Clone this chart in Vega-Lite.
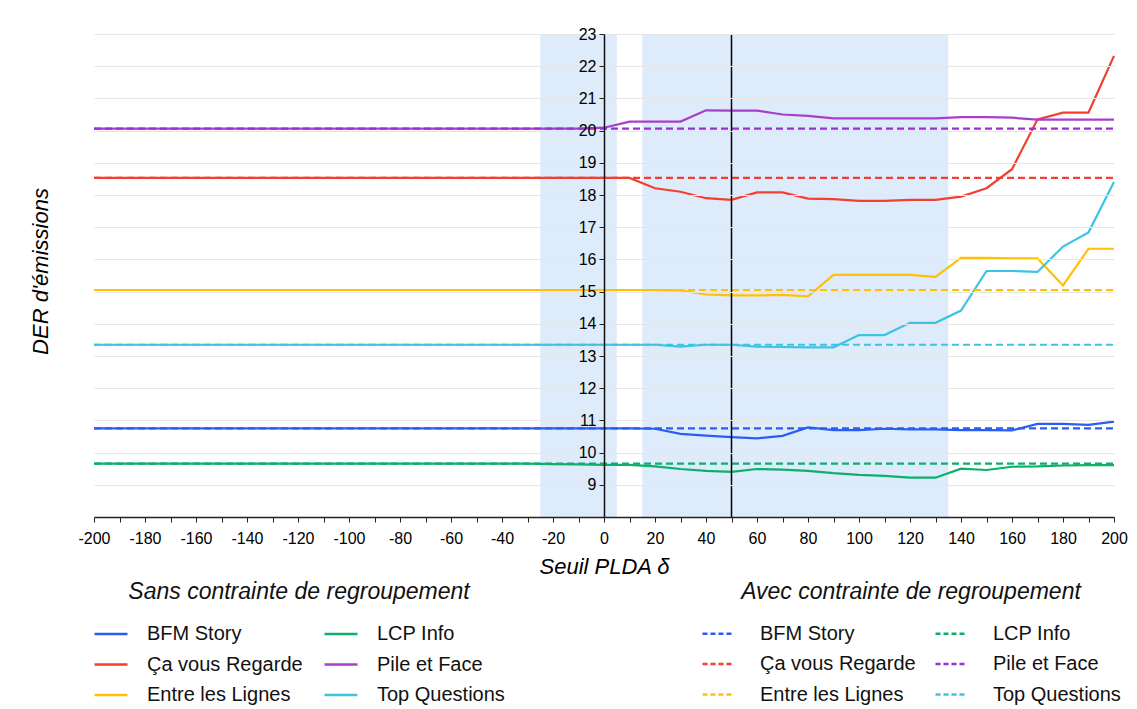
{
  "$schema": "https://vega.github.io/schema/vega-lite/v6.json",
  "width": 1020,
  "height": 483,
  "autosize": "none",
  "padding": {"left": 94, "top": 34, "right": 23, "bottom": 192},
  "background": "white",
  "config": {
    "font": "Liberation Sans",
    "view": {"stroke": null},
    "axis": {"labelColor": "black", "titleColor": "black", "labelFont": "Liberation Sans", "titleFont": "Liberation Sans"},
    "legend": {"labelFont": "Liberation Sans", "titleFont": "Liberation Sans"}
  },
  "datasets": {
    "shade": [
      {"delta": -25, "delta_end": 5},
      {"delta": 15, "delta_end": 135}
    ],
    "vline": [{"delta": 50}],
    "dashed": [
      {"series": "BFM Story", "delta": -200, "der": 10.75}, {"series": "BFM Story", "delta": 200, "der": 10.75},
      {"series": "LCP Info", "delta": -200, "der": 9.66}, {"series": "LCP Info", "delta": 200, "der": 9.66},
      {"series": "Ça vous Regarde", "delta": -200, "der": 18.53}, {"series": "Ça vous Regarde", "delta": 200, "der": 18.53},
      {"series": "Pile et Face", "delta": -200, "der": 20.06}, {"series": "Pile et Face", "delta": 200, "der": 20.06},
      {"series": "Entre les Lignes", "delta": -200, "der": 15.05}, {"series": "Entre les Lignes", "delta": 200, "der": 15.05},
      {"series": "Top Questions", "delta": -200, "der": 13.35}, {"series": "Top Questions", "delta": 200, "der": 13.35}
    ],
    "solid": [
      {"series": "BFM Story", "delta": -200, "der": 10.75},
      {"series": "BFM Story", "delta": -30, "der": 10.75},
      {"series": "BFM Story", "delta": -20, "der": 10.75},
      {"series": "BFM Story", "delta": -10, "der": 10.75},
      {"series": "BFM Story", "delta": 0, "der": 10.75},
      {"series": "BFM Story", "delta": 10, "der": 10.75},
      {"series": "BFM Story", "delta": 20, "der": 10.74},
      {"series": "BFM Story", "delta": 30, "der": 10.58},
      {"series": "BFM Story", "delta": 40, "der": 10.53},
      {"series": "BFM Story", "delta": 50, "der": 10.48},
      {"series": "BFM Story", "delta": 60, "der": 10.44},
      {"series": "BFM Story", "delta": 70, "der": 10.52},
      {"series": "BFM Story", "delta": 80, "der": 10.78},
      {"series": "BFM Story", "delta": 90, "der": 10.70},
      {"series": "BFM Story", "delta": 100, "der": 10.70},
      {"series": "BFM Story", "delta": 110, "der": 10.74},
      {"series": "BFM Story", "delta": 120, "der": 10.72},
      {"series": "BFM Story", "delta": 130, "der": 10.72},
      {"series": "BFM Story", "delta": 140, "der": 10.70},
      {"series": "BFM Story", "delta": 150, "der": 10.70},
      {"series": "BFM Story", "delta": 160, "der": 10.69},
      {"series": "BFM Story", "delta": 170, "der": 10.89},
      {"series": "BFM Story", "delta": 180, "der": 10.89},
      {"series": "BFM Story", "delta": 190, "der": 10.86},
      {"series": "BFM Story", "delta": 200, "der": 10.96},

      {"series": "Ça vous Regarde", "delta": -200, "der": 18.53},
      {"series": "Ça vous Regarde", "delta": -30, "der": 18.53},
      {"series": "Ça vous Regarde", "delta": -20, "der": 18.53},
      {"series": "Ça vous Regarde", "delta": -10, "der": 18.53},
      {"series": "Ça vous Regarde", "delta": 0, "der": 18.53},
      {"series": "Ça vous Regarde", "delta": 10, "der": 18.53},
      {"series": "Ça vous Regarde", "delta": 20, "der": 18.21},
      {"series": "Ça vous Regarde", "delta": 30, "der": 18.10},
      {"series": "Ça vous Regarde", "delta": 40, "der": 17.90},
      {"series": "Ça vous Regarde", "delta": 50, "der": 17.85},
      {"series": "Ça vous Regarde", "delta": 60, "der": 18.08},
      {"series": "Ça vous Regarde", "delta": 70, "der": 18.08},
      {"series": "Ça vous Regarde", "delta": 80, "der": 17.89},
      {"series": "Ça vous Regarde", "delta": 90, "der": 17.87},
      {"series": "Ça vous Regarde", "delta": 100, "der": 17.82},
      {"series": "Ça vous Regarde", "delta": 110, "der": 17.82},
      {"series": "Ça vous Regarde", "delta": 120, "der": 17.85},
      {"series": "Ça vous Regarde", "delta": 130, "der": 17.85},
      {"series": "Ça vous Regarde", "delta": 140, "der": 17.95},
      {"series": "Ça vous Regarde", "delta": 150, "der": 18.21},
      {"series": "Ça vous Regarde", "delta": 160, "der": 18.80},
      {"series": "Ça vous Regarde", "delta": 170, "der": 20.35},
      {"series": "Ça vous Regarde", "delta": 180, "der": 20.56},
      {"series": "Ça vous Regarde", "delta": 190, "der": 20.56},
      {"series": "Ça vous Regarde", "delta": 200, "der": 22.32},

      {"series": "Entre les Lignes", "delta": -200, "der": 15.05},
      {"series": "Entre les Lignes", "delta": -30, "der": 15.05},
      {"series": "Entre les Lignes", "delta": -20, "der": 15.05},
      {"series": "Entre les Lignes", "delta": -10, "der": 15.05},
      {"series": "Entre les Lignes", "delta": 0, "der": 15.05},
      {"series": "Entre les Lignes", "delta": 10, "der": 15.05},
      {"series": "Entre les Lignes", "delta": 20, "der": 15.05},
      {"series": "Entre les Lignes", "delta": 30, "der": 15.04},
      {"series": "Entre les Lignes", "delta": 40, "der": 14.91},
      {"series": "Entre les Lignes", "delta": 50, "der": 14.88},
      {"series": "Entre les Lignes", "delta": 60, "der": 14.88},
      {"series": "Entre les Lignes", "delta": 70, "der": 14.90},
      {"series": "Entre les Lignes", "delta": 80, "der": 14.85},
      {"series": "Entre les Lignes", "delta": 90, "der": 15.52},
      {"series": "Entre les Lignes", "delta": 100, "der": 15.52},
      {"series": "Entre les Lignes", "delta": 110, "der": 15.52},
      {"series": "Entre les Lignes", "delta": 120, "der": 15.52},
      {"series": "Entre les Lignes", "delta": 130, "der": 15.46},
      {"series": "Entre les Lignes", "delta": 140, "der": 16.05},
      {"series": "Entre les Lignes", "delta": 150, "der": 16.05},
      {"series": "Entre les Lignes", "delta": 160, "der": 16.03},
      {"series": "Entre les Lignes", "delta": 170, "der": 16.03},
      {"series": "Entre les Lignes", "delta": 180, "der": 15.19},
      {"series": "Entre les Lignes", "delta": 190, "der": 16.33},
      {"series": "Entre les Lignes", "delta": 200, "der": 16.33},

      {"series": "LCP Info", "delta": -200, "der": 9.66},
      {"series": "LCP Info", "delta": -30, "der": 9.66},
      {"series": "LCP Info", "delta": -20, "der": 9.645},
      {"series": "LCP Info", "delta": -10, "der": 9.635},
      {"series": "LCP Info", "delta": 0, "der": 9.62},
      {"series": "LCP Info", "delta": 10, "der": 9.62},
      {"series": "LCP Info", "delta": 20, "der": 9.57},
      {"series": "LCP Info", "delta": 30, "der": 9.49},
      {"series": "LCP Info", "delta": 40, "der": 9.43},
      {"series": "LCP Info", "delta": 50, "der": 9.40},
      {"series": "LCP Info", "delta": 60, "der": 9.49},
      {"series": "LCP Info", "delta": 70, "der": 9.47},
      {"series": "LCP Info", "delta": 80, "der": 9.43},
      {"series": "LCP Info", "delta": 90, "der": 9.36},
      {"series": "LCP Info", "delta": 100, "der": 9.31},
      {"series": "LCP Info", "delta": 110, "der": 9.28},
      {"series": "LCP Info", "delta": 120, "der": 9.22},
      {"series": "LCP Info", "delta": 130, "der": 9.22},
      {"series": "LCP Info", "delta": 140, "der": 9.50},
      {"series": "LCP Info", "delta": 150, "der": 9.46},
      {"series": "LCP Info", "delta": 160, "der": 9.56},
      {"series": "LCP Info", "delta": 170, "der": 9.57},
      {"series": "LCP Info", "delta": 180, "der": 9.60},
      {"series": "LCP Info", "delta": 190, "der": 9.61},
      {"series": "LCP Info", "delta": 200, "der": 9.61},

      {"series": "Pile et Face", "delta": -200, "der": 20.06},
      {"series": "Pile et Face", "delta": -30, "der": 20.06},
      {"series": "Pile et Face", "delta": -20, "der": 20.06},
      {"series": "Pile et Face", "delta": -10, "der": 20.06},
      {"series": "Pile et Face", "delta": 0, "der": 20.09},
      {"series": "Pile et Face", "delta": 10, "der": 20.28},
      {"series": "Pile et Face", "delta": 20, "der": 20.28},
      {"series": "Pile et Face", "delta": 30, "der": 20.28},
      {"series": "Pile et Face", "delta": 40, "der": 20.63},
      {"series": "Pile et Face", "delta": 50, "der": 20.62},
      {"series": "Pile et Face", "delta": 60, "der": 20.62},
      {"series": "Pile et Face", "delta": 70, "der": 20.50},
      {"series": "Pile et Face", "delta": 80, "der": 20.46},
      {"series": "Pile et Face", "delta": 90, "der": 20.38},
      {"series": "Pile et Face", "delta": 100, "der": 20.38},
      {"series": "Pile et Face", "delta": 110, "der": 20.38},
      {"series": "Pile et Face", "delta": 120, "der": 20.38},
      {"series": "Pile et Face", "delta": 130, "der": 20.38},
      {"series": "Pile et Face", "delta": 140, "der": 20.42},
      {"series": "Pile et Face", "delta": 150, "der": 20.42},
      {"series": "Pile et Face", "delta": 160, "der": 20.40},
      {"series": "Pile et Face", "delta": 170, "der": 20.34},
      {"series": "Pile et Face", "delta": 180, "der": 20.34},
      {"series": "Pile et Face", "delta": 190, "der": 20.34},
      {"series": "Pile et Face", "delta": 200, "der": 20.34},

      {"series": "Top Questions", "delta": -200, "der": 13.35},
      {"series": "Top Questions", "delta": -30, "der": 13.35},
      {"series": "Top Questions", "delta": -20, "der": 13.35},
      {"series": "Top Questions", "delta": -10, "der": 13.35},
      {"series": "Top Questions", "delta": 0, "der": 13.35},
      {"series": "Top Questions", "delta": 10, "der": 13.35},
      {"series": "Top Questions", "delta": 20, "der": 13.35},
      {"series": "Top Questions", "delta": 30, "der": 13.29},
      {"series": "Top Questions", "delta": 40, "der": 13.35},
      {"series": "Top Questions", "delta": 50, "der": 13.35},
      {"series": "Top Questions", "delta": 60, "der": 13.29},
      {"series": "Top Questions", "delta": 70, "der": 13.28},
      {"series": "Top Questions", "delta": 80, "der": 13.27},
      {"series": "Top Questions", "delta": 90, "der": 13.27},
      {"series": "Top Questions", "delta": 100, "der": 13.65},
      {"series": "Top Questions", "delta": 110, "der": 13.65},
      {"series": "Top Questions", "delta": 120, "der": 14.03},
      {"series": "Top Questions", "delta": 130, "der": 14.03},
      {"series": "Top Questions", "delta": 140, "der": 14.41},
      {"series": "Top Questions", "delta": 150, "der": 15.64},
      {"series": "Top Questions", "delta": 160, "der": 15.64},
      {"series": "Top Questions", "delta": 170, "der": 15.61},
      {"series": "Top Questions", "delta": 180, "der": 16.40},
      {"series": "Top Questions", "delta": 190, "der": 16.84},
      {"series": "Top Questions", "delta": 200, "der": 18.40}
    ]
  },
  "encoding": {
    "x": {
      "field": "delta",
      "type": "quantitative",
      "scale": {"domain": [-200, 200], "nice": false, "zero": false},
      "axis": {
        "title": "Seuil PLDA δ",
        "titleFontSize": 22,
        "titleFontStyle": "italic",
        "titleFontWeight": "normal",
        "titlePadding": 10,
        "values": [-200,-190,-180,-170,-160,-150,-140,-130,-120,-110,-100,-90,-80,-70,-60,-50,-40,-30,-20,-10,0,10,20,30,40,50,60,70,80,90,100,110,120,130,140,150,160,170,180,190,200],
        "labelExpr": "datum.value % 20 == 0 ? '' + datum.value : ''",
        "labelOverlap": false,
        "labelFlush": false,
        "labelFontSize": 16,
        "labelPadding": 8,
        "grid": false,
        "domainColor": "#222",
        "domainWidth": 1.5,
        "tickColor": "#222",
        "tickSize": 5,
        "tickWidth": 1,
        "zindex": 1
      }
    },
    "y": {
      "field": "der",
      "type": "quantitative",
      "scale": {"domain": [8, 23], "nice": false, "zero": false},
      "axis": {
        "title": "DER d'émissions",
        "titleFontSize": 22,
        "titleFontStyle": "italic",
        "titleFontWeight": "normal",
        "titleX": -564,
        "titleY": 237,
        "titleAngle": 270,
        "titleAlign": "center",
        "titleBaseline": "middle",
        "offset": -510,
        "values": [9,10,11,12,13,14,15,16,17,18,19,20,21,22,23],
        "tickCount": 15,
        "labelExpr": "'' + datum.value",
        "labelOverlap": false,
        "labelFlush": false,
        "labelFontSize": 16,
        "labelPadding": 3,
        "grid": true,
        "gridColor": "#e6e6e6",
        "gridWidth": 1,
        "domainColor": "#111",
        "domainWidth": 1.5,
        "tickColor": "#222",
        "tickSize": 5,
        "zindex": 1
      }
    }
  },
  "layer": [
    {
      "data": {"name": "shade"},
      "mark": {"type": "rect", "color": "#d2e4fa", "opacity": 0.75},
      "encoding": {"x2": {"field": "delta_end"}, "y": null}
    },
    {
      "data": {"name": "solid"},
      "mark": {"type": "line", "strokeWidth": 2.2},
      "encoding": {
        "color": {
          "field": "series",
          "type": "nominal",
          "scale": {
            "domain": ["BFM Story", "Ça vous Regarde", "Entre les Lignes", "LCP Info", "Pile et Face", "Top Questions"],
            "range": ["#2a5ef2", "#f23f32", "#ffc107", "#0db06b", "#a83fcb", "#3ec3e2"]
          },
          "legend": {
            "title": "Sans contrainte de regroupement",
            "orient": "none",
            "legendX": -1,
            "legendY": 547,
            "direction": "vertical",
            "columns": 2,
            "columnPadding": 16,
            "rowPadding": 2.5,
            "symbolType": "stroke",
            "symbolSize": 1089,
            "symbolStrokeWidth": 2.5,
            "labelOffset": 18,
            "labelFontSize": 20,
            "labelLimit": 400,
            "labelColor": "#111",
            "titleFontSize": 23,
            "titleFontStyle": "italic",
            "titleFontWeight": "normal",
            "titleColor": "#111",
            "titleAnchor": "middle",
            "titleLimit": 600,
            "titlePadding": 12
          }
        }
      }
    },
    {
      "data": {"name": "dashed"},
      "mark": {"type": "line", "strokeWidth": 2.2, "strokeDash": [7, 4]},
      "encoding": {
        "color": {
          "field": "series",
          "type": "nominal",
          "scale": {
            "domain": ["BFM Story", "Ça vous Regarde", "Entre les Lignes", "LCP Info", "Pile et Face", "Top Questions"],
            "range": ["#2a5ef2", "#f23f32", "#ffc107", "#0db06b", "#9a30d4", "#3ec3e2"]
          },
          "legend": {
            "title": "Avec contrainte de regroupement",
            "orient": "none",
            "legendX": 607,
            "legendY": 547,
            "direction": "vertical",
            "columns": 2,
            "columnPadding": 14,
            "rowPadding": 3.5,
            "symbolType": "stroke",
            "symbolSize": 900,
            "symbolStrokeWidth": 2.5,
            "symbolDash": [5, 3],
            "labelOffset": 26,
            "labelFontSize": 20,
            "labelLimit": 400,
            "labelColor": "#111",
            "titleFontSize": 23,
            "titleFontStyle": "italic",
            "titleFontWeight": "normal",
            "titleColor": "#111",
            "titleAnchor": "middle",
            "titleLimit": 600,
            "titlePadding": 13
          }
        }
      }
    },
    {
      "data": {"name": "vline"},
      "mark": {"type": "rule", "color": "black", "strokeWidth": 1.5},
      "encoding": {"y": null}
    }
  ],
  "resolve": {"scale": {"color": "independent"}}
}
